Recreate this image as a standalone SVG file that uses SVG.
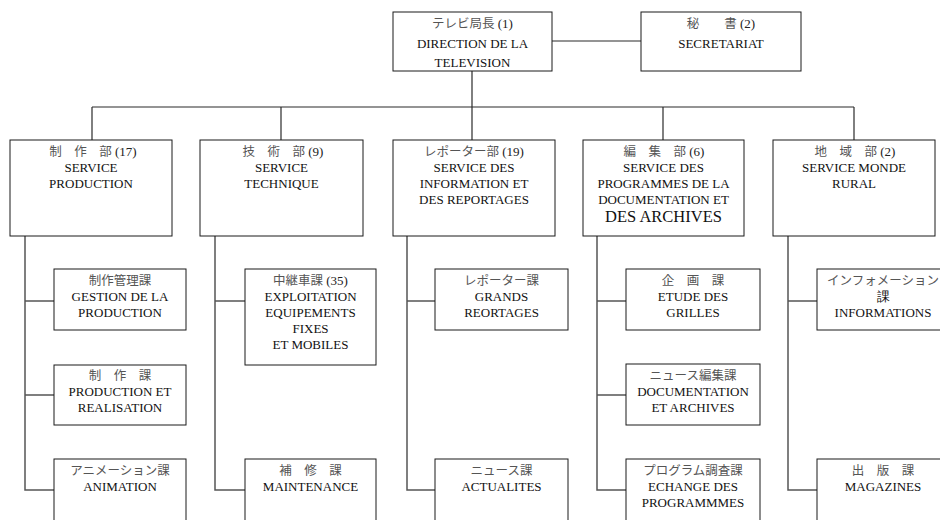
<svg xmlns="http://www.w3.org/2000/svg" width="940" height="520" viewBox="0 0 940 520">
<style>
.box{fill:#fff;stroke:#1a1a1a;stroke-width:1}
.ln{fill:none;stroke:#2a2a2a;stroke-width:1.2}
.sp{fill:none;stroke:#555;stroke-width:1.5}
.t{font-family:"Liberation Serif","Times New Roman",serif;font-size:13px;fill:#111;text-anchor:middle}
.j{font-family:"Liberation Serif","Noto Sans CJK JP",serif;font-size:12.5px;fill:#555;text-anchor:middle}
.n{fill:#222;font-size:13px}
.big{font-size:16.5px}
</style>
<rect width="940" height="520" fill="#fff"/>
<g id="connectors">
<line class="ln" x1="552" y1="41" x2="641" y2="41"/>
<line class="ln" x1="472" y1="71" x2="472" y2="107"/>
<line class="ln" x1="92" y1="107" x2="854" y2="107"/>
<line class="ln" x1="92" y1="107" x2="92" y2="140"/>
<line class="ln" x1="281" y1="107" x2="281" y2="140"/>
<line class="ln" x1="472" y1="107" x2="472" y2="140"/>
<line class="ln" x1="663" y1="107" x2="663" y2="140"/>
<line class="ln" x1="854" y1="107" x2="854" y2="140"/>
<path class="sp" d="M25 236V490H54M25 301H54M25 395H54"/>
<path class="sp" d="M215 236V490H245M215 301H245"/>
<path class="sp" d="M407 236V490H435M407 301H435"/>
<path class="sp" d="M597 236V490H626M597 301H626M597 395H626"/>
<path class="sp" d="M788 236V490H817M788 301H817"/>
</g>
<g id="direction">
<rect class="box" x="393" y="12" width="159" height="59"/>
<text class="j" x="472.5" y="28">テレビ局長 <tspan class="n">(1)</tspan></text>
<text class="t" x="472.5" y="48">DIRECTION DE LA</text>
<text class="t" x="472.5" y="67">TELEVISION</text>
</g>
<g id="secretariat">
<rect class="box" x="641" y="12" width="160" height="59"/>
<text class="j" x="721" y="28">秘　　書 <tspan class="n">(2)</tspan></text>
<text class="t" x="721" y="48">SECRETARIAT</text>
</g>
<g id="production">
<rect class="box" x="10" y="140" width="162" height="96"/>
<text class="j" x="93" y="156">制　作　部 <tspan class="n">(17)</tspan></text>
<text class="t" x="91" y="172">SERVICE</text>
<text class="t" x="91" y="188">PRODUCTION</text>
</g>
<g id="technique">
<rect class="box" x="200" y="140" width="163" height="96"/>
<text class="j" x="283" y="156">技　術　部 <tspan class="n">(9)</tspan></text>
<text class="t" x="281.5" y="172">SERVICE</text>
<text class="t" x="281.5" y="188">TECHNIQUE</text>
</g>
<g id="information">
<rect class="box" x="393" y="140" width="162" height="96"/>
<text class="j" x="474" y="156">レポーター部 <tspan class="n">(19)</tspan></text>
<text class="t" x="474" y="172">SERVICE DES</text>
<text class="t" x="474" y="188">INFORMATION ET</text>
<text class="t" x="474" y="204">DES REPORTAGES</text>
</g>
<g id="programmes">
<rect class="box" x="583" y="140" width="161" height="96"/>
<text class="j" x="664" y="156">編　集　部 <tspan class="n">(6)</tspan></text>
<text class="t" x="663.5" y="172">SERVICE DES</text>
<text class="t" x="663.5" y="188">PROGRAMMES DE LA</text>
<text class="t" x="663.5" y="204">DOCUMENTATION ET</text>
<text class="t big" x="663.5" y="222">DES ARCHIVES</text>
</g>
<g id="rural">
<rect class="box" x="773" y="140" width="162" height="96"/>
<text class="j" x="855" y="156">地　域　部 <tspan class="n">(2)</tspan></text>
<text class="t" x="854" y="172">SERVICE MONDE</text>
<text class="t" x="854" y="188">RURAL</text>
</g>
<g id="gestion">
<rect class="box" x="54" y="269" width="132" height="61"/>
<text class="j" x="120" y="285">制作管理課</text>
<text class="t" x="120" y="301">GESTION DE LA</text>
<text class="t" x="120" y="317">PRODUCTION</text>
</g>
<g id="realisation">
<rect class="box" x="54" y="365" width="132" height="60"/>
<text class="j" x="120" y="380">制　作　課</text>
<text class="t" x="120" y="396">PRODUCTION ET</text>
<text class="t" x="120" y="412">REALISATION</text>
</g>
<g id="animation">
<rect class="box" x="54" y="459" width="132" height="72"/>
<text class="j" x="120" y="475">アニメーション課</text>
<text class="t" x="120" y="491">ANIMATION</text>
</g>
<g id="exploitation">
<rect class="box" x="245" y="269" width="131" height="96"/>
<text class="j" x="310.5" y="285">中継車課 <tspan class="n">(35)</tspan></text>
<text class="t" x="310.5" y="301">EXPLOITATION</text>
<text class="t" x="310.5" y="317">EQUIPEMENTS</text>
<text class="t" x="310.5" y="333">FIXES</text>
<text class="t" x="310.5" y="349">ET MOBILES</text>
</g>
<g id="maintenance">
<rect class="box" x="245" y="459" width="131" height="72"/>
<text class="j" x="310.5" y="475">補　修　課</text>
<text class="t" x="310.5" y="491">MAINTENANCE</text>
</g>
<g id="reportages">
<rect class="box" x="435" y="269" width="133" height="61"/>
<text class="j" x="501.5" y="285">レポーター課</text>
<text class="t" x="501.5" y="301">GRANDS</text>
<text class="t" x="501.5" y="317">REORTAGES</text>
</g>
<g id="actualites">
<rect class="box" x="435" y="459" width="133" height="72"/>
<text class="j" x="501.5" y="475">ニュース課</text>
<text class="t" x="501.5" y="491">ACTUALITES</text>
</g>
<g id="grilles">
<rect class="box" x="626" y="269" width="134" height="61"/>
<text class="j" x="693" y="285">企　画　課</text>
<text class="t" x="693" y="301">ETUDE DES</text>
<text class="t" x="693" y="317">GRILLES</text>
</g>
<g id="documentation">
<rect class="box" x="626" y="364" width="134" height="61"/>
<text class="j" x="693" y="380">ニュース編集課</text>
<text class="t" x="693" y="396">DOCUMENTATION</text>
<text class="t" x="693" y="412">ET ARCHIVES</text>
</g>
<g id="echange">
<rect class="box" x="626" y="459" width="134" height="72"/>
<text class="j" x="693" y="475">プログラム調査課</text>
<text class="t" x="693" y="491">ECHANGE DES</text>
<text class="t" x="693" y="507">PROGRAMMMES</text>
</g>
<g id="informations">
<rect class="box" x="817" y="269" width="133" height="61"/>
<text class="j" x="883" y="285">インフォメーション</text>
<text class="t" x="883" y="301">課</text>
<text class="t" x="883" y="317">INFORMATIONS</text>
</g>
<g id="magazines">
<rect class="box" x="817" y="459" width="133" height="72"/>
<text class="j" x="883" y="475">出　版　課</text>
<text class="t" x="883" y="491">MAGAZINES</text>
</g>
</svg>
